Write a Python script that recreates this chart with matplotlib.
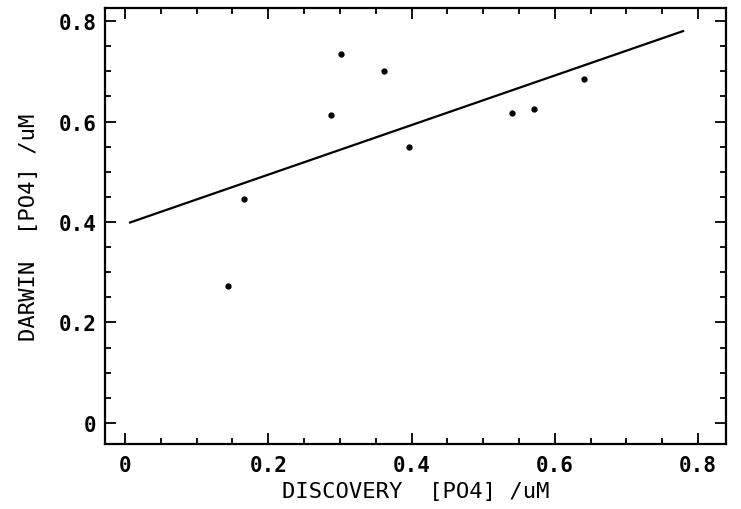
import numpy as np
import matplotlib
matplotlib.use('Agg')
from matplotlib import pyplot as plt
from matplotlib.ticker import MultipleLocator

# discovery vs darwin phosphate
discovery = [0.144, 0.166, 0.288, 0.301, 0.361, 0.397, 0.540, 0.571, 0.641]
darwin = [0.273, 0.445, 0.613, 0.734, 0.700, 0.549, 0.617, 0.625, 0.685]

# regression line end points
fit_x = [0.007, 0.779]
fit_y = [0.399, 0.780]

plt.rcParams['font.family'] = ['DejaVu Sans Mono']

fig = plt.figure(figsize=(7.41, 5.10), dpi=100)
ax = fig.add_axes([105/741, 65/510, 621/741, 436/510])

ax.plot(fit_x, fit_y, color='black', lw=1.6)
ax.plot(discovery, darwin, 'o', color='black', ms=3.5)

ax.set_xlim(-0.028, 0.839)
ax.set_ylim(-0.042, 0.826)
ax.xaxis.set_major_locator(MultipleLocator(0.2))
ax.xaxis.set_minor_locator(MultipleLocator(0.05))
ax.yaxis.set_major_locator(MultipleLocator(0.2))
ax.yaxis.set_minor_locator(MultipleLocator(0.05))
fmt = plt.FuncFormatter(lambda v, p: '0' if abs(v) < 1e-9 else '%.1f' % v)
ax.xaxis.set_major_formatter(fmt)
ax.yaxis.set_major_formatter(fmt)

ax.tick_params(which='both', direction='in', top=True, right=True, width=1.3, labelsize=15)
ax.tick_params(which='major', length=8)
ax.tick_params(which='minor', length=4)
ax.tick_params(axis='x', pad=8)
ax.tick_params(axis='y', pad=6)
for lab in ax.get_xticklabels() + ax.get_yticklabels():
    lab.set_fontweight('bold')
for s in ax.spines.values():
    s.set_linewidth(1.6)

ax.set_xlabel('DISCOVERY  [PO4] /uM', fontsize=16, labelpad=4)
ax.set_ylabel('DARWIN  [PO4] /uM', fontsize=16, labelpad=14)

fig.savefig('out.png', dpi=100)
